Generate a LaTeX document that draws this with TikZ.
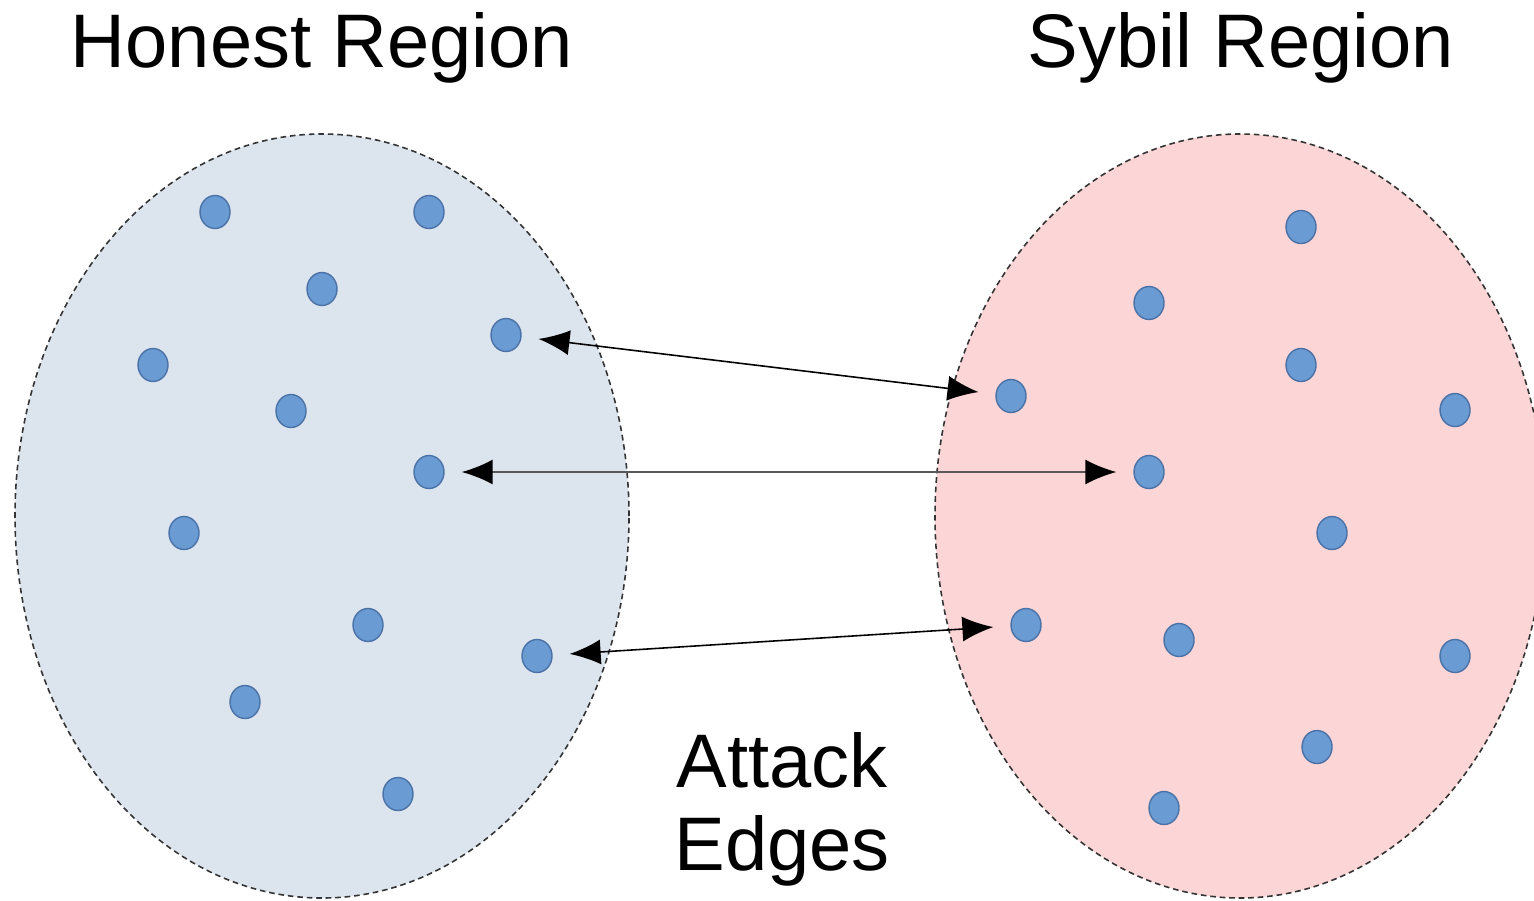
\documentclass[tikz,border=0pt]{standalone}
\usepackage{fontspec}
\setmainfont{Liberation Sans}
\usetikzlibrary{shapes.geometric,arrows.meta}
\definecolor{honestfill}{HTML}{DCE4EE}
\definecolor{sybilfill}{HTML}{FCD5D6}
\definecolor{dotfill}{HTML}{6A9BD3}
\definecolor{dotline}{HTML}{4A72A6}
\definecolor{rimline}{HTML}{333333}
\tikzset{
  region/.style={draw=rimline, line width=0.45pt, dash pattern=on 1.6pt off 1.1pt},
  dot/.style={ellipse, draw=dotline, fill=dotfill, line width=0.4pt, minimum width=0.30cm, minimum height=0.33cm, inner sep=0pt},
  attack/.style={{Latex[length=0.31cm,width=0.25cm,black]}-{Latex[length=0.31cm,width=0.25cm,black]}, line width=0.45pt, shorten <=0.17cm, shorten >=0.17cm},
  title/.style={font=\fontsize{21.6}{23.4}\selectfont, inner sep=0pt, anchor=base}
}
\begin{document}
\begin{tikzpicture}
\useasboundingbox (0,0) rectangle (15.34,9);
\begin{scope}
\clip (0,0) rectangle (15.34,9);
\draw[region, fill=honestfill] (3.22,3.84) ellipse [x radius=3.07cm, y radius=3.82cm];
\draw[region, fill=sybilfill] (12.40,3.84) ellipse [x radius=3.05cm, y radius=3.82cm];
\end{scope}
\node[title] (ht) at (3.22,8.32) {Honest Region};
\node[title] (st) at (12.41,8.32) {Sybil Region};
\node[title, align=center] (ae) at (7.82,0.30) {Attack\\Edges};
% honest nodes
\node[dot] (h1) at (2.15,6.88) {};
\node[dot] (h2) at (4.29,6.88) {};
\node[dot] (h3) at (3.22,6.11) {};
\node[dot] (h4) at (5.06,5.65) {};
\node[dot] (h5) at (1.53,5.35) {};
\node[dot] (h6) at (2.91,4.89) {};
\node[dot] (h7) at (4.29,4.28) {};
\node[dot] (h8) at (1.84,3.67) {};
\node[dot] (h9) at (3.68,2.75) {};
\node[dot] (h10) at (5.37,2.44) {};
\node[dot] (h11) at (2.45,1.98) {};
\node[dot] (h12) at (3.98,1.06) {};
% sybil nodes
\node[dot] (s1) at (13.01,6.73) {};
\node[dot] (s2) at (11.49,5.97) {};
\node[dot] (s3) at (13.01,5.35) {};
\node[dot] (s4) at (10.11,5.04) {};
\node[dot] (s5) at (14.55,4.90) {};
\node[dot] (s6) at (11.49,4.28) {};
\node[dot] (s7) at (13.32,3.67) {};
\node[dot] (s8) at (10.26,2.75) {};
\node[dot] (s9) at (11.79,2.60) {};
\node[dot] (s10) at (14.55,2.44) {};
\node[dot] (s11) at (13.17,1.53) {};
\node[dot] (s12) at (11.64,0.92) {};
% attack edges
\draw[attack] (h4) -- (s4);
\draw[attack, draw=black!65] (h7) -- (s6);
\draw[attack] (h10) -- (s8);
\end{tikzpicture}
\end{document}
